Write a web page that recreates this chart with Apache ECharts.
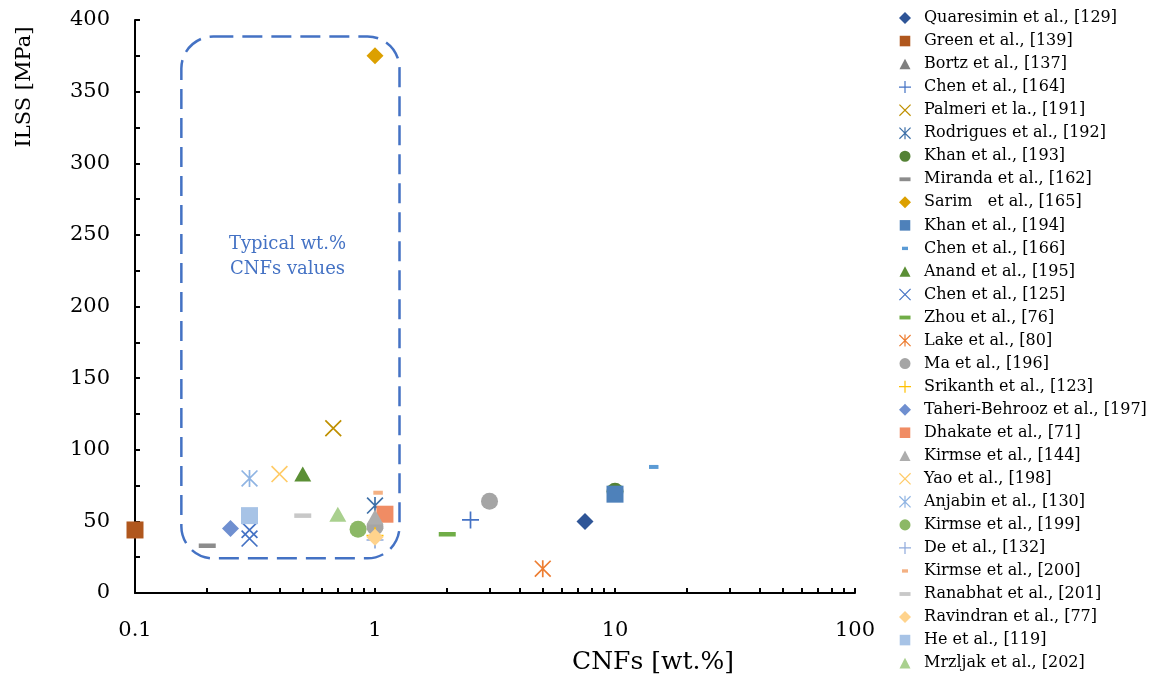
<!DOCTYPE html>
<html><head><meta charset="utf-8">
<script src="https://cdn.jsdelivr.net/npm/echarts@6/dist/echarts.min.js"></script>
<style>html,body{margin:0;padding:0;background:#fff}#c{width:1159px;height:682px}</style>
</head><body><div id="c"></div>
<script>
// ---- data ----
const studies = [
  'Quaresimin et al., [129]', 'Green et al., [139]', 'Bortz et al., [137]', 'Chen et al., [164]',
  'Palmeri et la., [191]', 'Rodrigues et al., [192]', 'Khan et al., [193]', 'Miranda et al., [162]',
  'Sarim   et al., [165]', 'Khan et al., [194]', 'Chen et al., [166]', 'Anand et al., [195]',
  'Chen et al., [125]', 'Zhou et al., [76]', 'Lake et al., [80]', 'Ma et al., [196]',
  'Srikanth et al., [123]', 'Taheri-Behrooz et al., [197]', 'Dhakate et al., [71]', 'Kirmse et al., [144]',
  'Yao et al., [198]', 'Anjabin et al., [130]', 'Kirmse et al., [199]', 'De et al., [132]',
  'Kirmse et al., [200]', 'Ranabhat et al., [201]', 'Ravindran et al., [77]', 'He et al., [119]',
  'Mrzljak et al., [202]'
];
// CNF content [wt.%] per study
const cnfWt = [
  [7.5], [0.1], [1], [2.5],
  [0.67], [1], [10], [0.2],
  [1], [10], [14.5], [0.5],
  [0.3, 0.3], [2], [5], [3, 1],
  [1], [0.25], [1.1], [1],
  [0.4], [0.3], [0.85], [1],
  [1.03], [0.5], [1], [0.3],
  [0.7]
];
// ILSS [MPa] per study
const ilss = [
  [50], [44], [50], [51],
  [115], [61], [71], [33],
  [375], [69], [88], [83],
  [38, 44], [41], [17], [64, 46],
  [40], [45], [55], [53],
  [83], [80], [44.5], [37],
  [70], [54], [39], [54],
  [55]
];
const xTickLabels = [0.1, 1, 10, 100];
const yTickLabels = [0, 50, 100, 150, 200, 250, 300, 350, 400];
// annotation box: CNF range and ILSS range
const boxCnf = [0.156, 1.265];
const boxIlss = [24.2, 388.5];
const noteAt = [0.432, 235];
const noteText = 'Typical wt.%\nCNFs values';

// ---- styles ----
const P_X = 'path://M0,7 L7,0 L100,93 L93,100 Z M93,0 L100,7 L7,100 L0,93 Z';
const P_PLUS = 'path://M45,0 H55 V45 H100 V55 H55 V100 H45 V55 H0 V45 H45 Z';
const P_AST = 'path://M0,7 L7,0 L100,93 L93,100 Z M93,0 L100,7 L7,100 L0,93 Z M45,0 H55 V100 H45 Z';
const DASH = 'dash';
const shapes = [
  'diamond','rect','triangle',P_PLUS,
  P_X,P_AST,'circle',DASH,
  'diamond','rect','sdash','triangle',
  P_X,DASH,P_AST,'circle',
  P_PLUS,'diamond','rect','triangle',
  P_X,P_AST,'circle',P_PLUS,
  'sdash',DASH,'diamond','rect',
  'triangle'
];
const colors = [
  '#2F5597','#B0571D','#7F7F7F','#4472C4',
  '#BF9000','#3E70A8','#548235','#8C8C8C',
  '#DCA000','#4E81BA','#5B9BD5','#5B8F35',
  '#4472C4','#70AD47','#ED7D31','#A5A5A5',
  '#FFC000','#6F8FD0','#F08C64','#ADADAD',
  '#FFCB66','#8FB4E3','#8CB866','#8FAADC',
  '#F4B183','#C8C8C8','#FFD38C','#A7C3E6',
  '#A9D08E'
];
function symSize(s){
  if (s === DASH) return [17, 4.5];
  if (s === 'sdash') return [9.5, 4];
  if (s === 'triangle') return [17, 15];
  return 17;
}
function symName(s){
  return (s === DASH || s === 'sdash') ? 'rect' : s;
}
function legendIcon(s){
  if (s === DASH) return 'path://M0,0 M4,34 H96 V66 H4 Z M100,100';
  if (s === 'sdash') return 'path://M0,0 M25,36 H75 V64 H25 Z M100,100';
  if (s === 'rect') return 'path://M0,0 M6,6 H94 V94 H6 Z M100,100';
  if (s === 'triangle') return 'path://M0,0 M50,6 L96,94 H4 Z M100,100';
  if (s === 'circle') return 'path://M0,0 M50,4 A46,46 0 1,1 49.99,4 Z M100,100';
  if (s === 'diamond') return 'path://M50,0 L100,50 L50,100 L0,50 Z';
  return s;
}
const FONT = 'DejaVu Serif';

const series = studies.map((name, i) => ({
  name,
  type: 'scatter',
  symbol: symName(shapes[i]),
  symbolSize: symSize(shapes[i]),
  itemStyle: { color: colors[i], opacity: 1 },
  emphasis: { disabled: true },
  data: cnfWt[i].map((x, k) => [x, ilss[i][k]])
}));

const xMinor = [];
[0.1, 1, 10].forEach(d => { for (let k = 1; k <= 9; k++) xMinor.push(+(d * k).toPrecision(3)); });
xMinor.push(100);
const yMinor = [];
for (let v = 0; v <= 400; v += 25) yMinor.push(v);

const chart = echarts.init(document.getElementById('c'), null, { renderer: 'canvas' });
chart.setOption({
  animation: false,
  backgroundColor: '#fff',
  grid: { left: 135, right: 304, top: 20, bottom: 89, containLabel: false },
  xAxis: {
    type: 'log', logBase: 10, min: 0.1, max: 100,
    axisLine: { show: true, onZero: false, lineStyle: { color: '#000', width: 2 } },
    axisTick: { show: true, inside: true, length: 5, customValues: xMinor, lineStyle: { color: '#000', width: 2 } },
    axisLabel: { customValues: xTickLabels, formatter: v => String(v), margin: 27, color: '#000', fontFamily: FONT, fontSize: 21 },
    splitLine: { show: false }
  },
  yAxis: {
    type: 'value', min: 0, max: 400, interval: 50,
    axisLine: { show: true, lineStyle: { color: '#000', width: 2 } },
    axisTick: { show: true, inside: true, length: 5, customValues: yMinor, lineStyle: { color: '#000', width: 2 } },
    axisLabel: { customValues: yTickLabels, margin: 25, color: '#000', fontFamily: FONT, fontSize: 21 },
    splitLine: { show: false }
  },
  legend: {
    orient: 'vertical', left: 899, top: 10, padding: 0,
    itemWidth: 12, itemHeight: 12, itemGap: 7.04,
    selectedMode: false,
    data: studies.map((name, i) => ({ name, icon: legendIcon(shapes[i]) })),
    textStyle: { fontFamily: FONT, fontSize: 16, color: '#000', lineHeight: 16, padding: [0, 0, 0, 8] }
  },
  series
});

function drawExtras(){
  const p1 = chart.convertToPixel({ gridIndex: 0 }, [boxCnf[0], boxIlss[1]]);
  const p2 = chart.convertToPixel({ gridIndex: 0 }, [boxCnf[1], boxIlss[0]]);
  const pn = chart.convertToPixel({ gridIndex: 0 }, noteAt);
  chart.setOption({
    graphic: [
      { type: 'rect', z: 1, shape: { x: p1[0], y: p1[1], width: p2[0] - p1[0], height: p2[1] - p1[1], r: 32 },
        style: { fill: 'none', stroke: '#4472C4', lineWidth: 2.5, lineDash: [20, 9] } },
      { type: 'text', z: 100, x: pn[0], y: pn[1],
        style: { text: noteText, fill: '#4472C4', font: '18px "' + FONT + '"', align: 'center', verticalAlign: 'middle', lineHeight: 25 } },
      { type: 'text', x: 25, y: 87, rotation: Math.PI / 2,
        style: { text: 'ILSS [MPa]', fill: '#000', font: '21px "' + FONT + '"', align: 'center', verticalAlign: 'middle' } },
      { type: 'text', x: 653, y: 662,
        style: { text: 'CNFs [wt.%]', fill: '#000', font: '25px "' + FONT + '"', align: 'center', verticalAlign: 'middle' } }
    ]
  });
}
drawExtras();
</script>
</body></html>
